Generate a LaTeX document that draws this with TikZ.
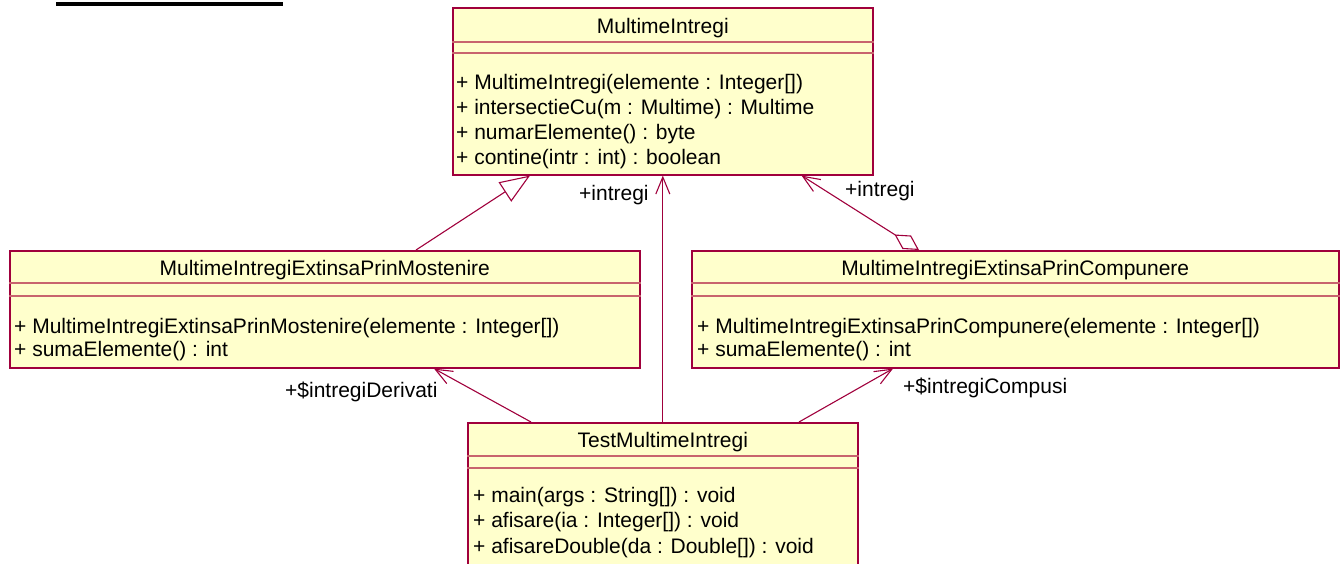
\documentclass[tikz,border=0pt]{standalone}
\usepackage{fontspec}
\setmainfont{Liberation Sans}
\usetikzlibrary{arrows.meta}
\definecolor{umlred}{RGB}{160,0,60}
\definecolor{umlsep}{RGB}{200,100,110}
\definecolor{umlfill}{RGB}{255,255,204}
\begin{document}
\begin{tikzpicture}[x=1pt,y=-1pt,
  cls/.style={draw=umlred, line width=1.6pt, fill=umlfill, anchor=north west, inner sep=0pt, rectangle},
  sep/.style={draw=umlsep, line width=1.4pt},
  txt/.style={font=\fontsize{21}{25}\selectfont, inner sep=0pt, text=black},
  title/.style={txt, anchor=base},
  meth/.style={txt, anchor=base west},
  lbl/.style={txt, anchor=base west},
  conn/.style={draw=umlred, line width=1.1pt},
  assoc/.style={conn, -{Straight Barb[length=17pt,width=14pt]}},
  gen/.style={conn, -{Triangle[open,length=30pt,width=23pt]}},
  aggr/.style={conn, {Diamond[open,length=29pt,width=16pt]}-{Straight Barb[length=17pt,width=14pt]}}
]
\useasboundingbox (0,0) rectangle (1340,563);
\clip (0,0) rectangle (1340,563);

% cut-off heading underline
\fill[black] (56,2) rectangle (283,6);

% MultimeIntregi
\node[cls, minimum width=420pt, minimum height=167pt] (mi) at (452,7) {};
\draw[sep] ([yshift=-35pt]mi.north west) -- ([yshift=-35pt]mi.north east);
\draw[sep] ([yshift=-46pt]mi.north west) -- ([yshift=-46pt]mi.north east);
\node[title] (mit) at ([yshift=-26pt]mi.north) {MultimeIntregi};
\node[meth] (mim1) at ([xshift=4pt,yshift=-82pt]mi.north west) {+ MultimeIntregi(elemente : Integer[])};
\node[meth] (mim2) at ([xshift=4pt,yshift=-107pt]mi.north west) {+ intersectieCu(m : Multime) : Multime};
\node[meth] (mim3) at ([xshift=4pt,yshift=-132pt]mi.north west) {+ numarElemente() : byte};
\node[meth] (mim4) at ([xshift=4pt,yshift=-157pt]mi.north west) {+ contine(intr : int) : boolean};

% MultimeIntregiExtinsaPrinMostenire
\node[cls, minimum width=630pt, minimum height=117pt] (mo) at (9,250) {};
\draw[sep] ([yshift=-33pt]mo.north west) -- ([yshift=-33pt]mo.north east);
\draw[sep] ([yshift=-46pt]mo.north west) -- ([yshift=-46pt]mo.north east);
\node[title] (mot) at ([yshift=-25pt]mo.north) {MultimeIntregiExtinsaPrinMostenire};
\node[meth] (mom1) at ([xshift=5pt,yshift=-83pt]mo.north west) {+ MultimeIntregiExtinsaPrinMostenire(elemente : Integer[])};
\node[meth] (mom2) at ([xshift=5pt,yshift=-106pt]mo.north west) {+ sumaElemente() : int};

% MultimeIntregiExtinsaPrinCompunere
\node[cls, minimum width=647pt, minimum height=117pt] (co) at (691,250) {};
\draw[sep] ([yshift=-33pt]co.north west) -- ([yshift=-33pt]co.north east);
\draw[sep] ([yshift=-46pt]co.north west) -- ([yshift=-46pt]co.north east);
\node[title] (cot) at ([yshift=-25pt]co.north) {MultimeIntregiExtinsaPrinCompunere};
\node[meth] (com1) at ([xshift=6pt,yshift=-83pt]co.north west) {+ MultimeIntregiExtinsaPrinCompunere(elemente : Integer[])};
\node[meth] (com2) at ([xshift=6pt,yshift=-106pt]co.north west) {+ sumaElemente() : int};

% TestMultimeIntregi
\node[cls, minimum width=390pt, minimum height=160pt] (tm) at (467,422) {};
\draw[sep] ([yshift=-34pt]tm.north west) -- ([yshift=-34pt]tm.north east);
\draw[sep] ([yshift=-46pt]tm.north west) -- ([yshift=-46pt]tm.north east);
\node[title] (tmt) at ([yshift=-25pt]tm.north) {TestMultimeIntregi};
\node[meth] (tmm1) at ([xshift=6pt,yshift=-80pt]tm.north west) {+ main(args : String[]) : void};
\node[meth] (tmm2) at ([xshift=6pt,yshift=-105pt]tm.north west) {+ afisare(ia : Integer[]) : void};
\node[meth] (tmm3) at ([xshift=6pt,yshift=-131pt]tm.north west) {+ afisareDouble(da : Double[]) : void};

% connectors
\draw[gen] ([xshift=407pt]mo.north west) -- ([xshift=78pt]mi.south west);
\draw[assoc] (tm.north) -- (mi.south);
\draw[aggr] ([xshift=228pt]co.north west) -- ([xshift=-72pt]mi.south east);
\draw[assoc] ([xshift=64pt]tm.north west) -- ([xshift=425pt]mo.south west);
\draw[assoc] ([xshift=332pt]tm.north west) -- ([xshift=202pt]co.south west);

% role labels
\node[lbl] (l1) at (579,200) {+intregi};
\node[lbl] (l2) at (845,196) {+intregi};
\node[lbl] (l3) at (285,397) {+\$intregiDerivati};
\node[lbl] (l4) at (903,393) {+\$intregiCompusi};
\end{tikzpicture}
\end{document}
